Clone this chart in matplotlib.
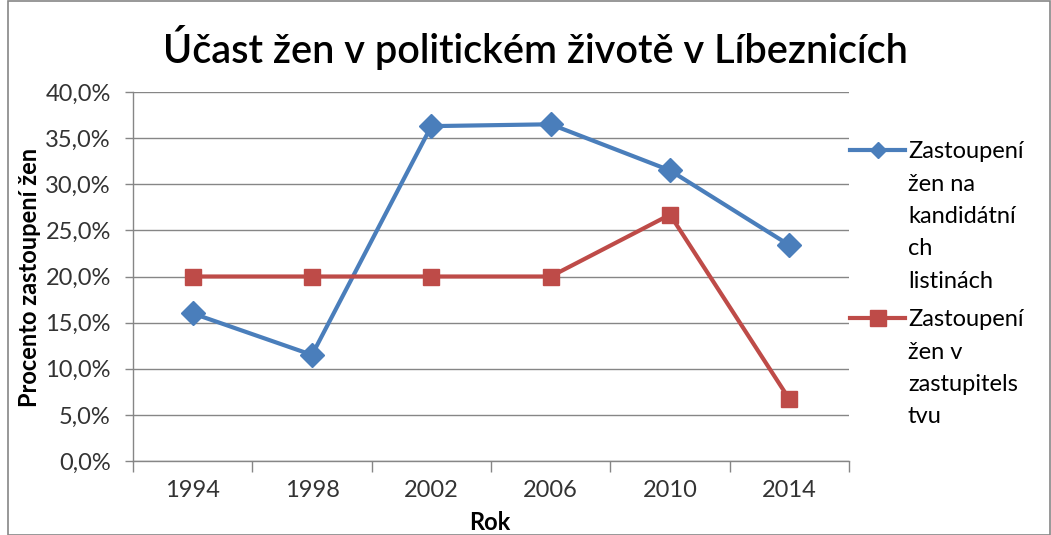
import matplotlib
matplotlib.use("Agg")
import matplotlib.pyplot as plt
from matplotlib.lines import Line2D
from matplotlib.patches import Rectangle
from matplotlib.ticker import FuncFormatter, FixedLocator

years = ["1994", "1998", "2002", "2006", "2010", "2014"]
kandidatky = [16.0, 11.5, 36.3, 36.5, 31.5, 23.4]
zastupitelstvo = [20.0, 20.0, 20.0, 20.0, 26.7, 6.7]
label_blue = "Zastoupení\nžen na\nkandidátní\nch\nlistinách"
label_red = "Zastoupení\nžen v\nzastupitels\ntvu"
title = "Účast žen v politickém životě v Líbeznicích"

plt.rcParams['font.family'] = ['Lato', 'DejaVu Sans']

W, H = 1051, 535
fig = plt.figure(figsize=(W/100, H/100), dpi=100)
fig.patches.append(Rectangle((8/W, 0.5/H), 1 - 9/W, 1 - 1/H, transform=fig.transFigure,
                             fill=False, edgecolor="#868686", linewidth=1.2))

ax = fig.add_axes([133/W, 1 - 461/H, (849-133)/W, (461-92)/H])
blue = "#4A7EBB"
red = "#BE4B48"
grid = "#868686"
x = list(range(len(years)))
ax.plot(x, kandidatky, color=blue, lw=3, marker="D", markersize=12, zorder=3)
ax.plot(x, zastupitelstvo, color=red, lw=3, marker="s", markersize=12, zorder=3)

ax.set_xlim(-0.5, len(years) - 0.5)
ax.set_ylim(0, 40)
ax.set_yticks([0, 5, 10, 15, 20, 25, 30, 35, 40])
ax.yaxis.set_major_formatter(FuncFormatter(lambda v, p: f"{v:.1f}%".replace(".", ",")))
ax.set_xticks(x)
ax.set_xticklabels(years)
ax.xaxis.set_minor_locator(FixedLocator([i - 0.5 for i in range(len(years) + 1)]))
ax.tick_params(axis="x", which="major", length=0, pad=14, labelsize=17, labelcolor="#333333")
ax.tick_params(axis="x", which="minor", length=8, width=1, color=grid)
ax.tick_params(axis="y", length=6, width=1, color=grid, labelsize=17, labelcolor="#333333", pad=10)
ax.grid(axis="y", color=grid, lw=1)
ax.set_axisbelow(True)
for s in ["top", "right"]:
    ax.spines[s].set_visible(False)
for s in ["left", "bottom"]:
    ax.spines[s].set_color(grid)
    ax.spines[s].set_linewidth(1)

fig.text(490/W, 1 - 523/H, "Rok", fontsize=17, fontweight="bold", ha="center", va="center")
fig.text(30/W, 1 - 277/H, "Procento zastoupení žen", fontsize=17, fontweight="bold",
         ha="center", va="center", rotation=90)

fig.text(535/W, 1 - 48/H, title, fontsize=28.5, fontweight="semibold", ha="center", va="center")

# legend
def legend_item(y, color, marker, ms, text):
    yf = 1 - y/H
    fig.add_artist(Line2D([850/W, 905/W], [yf, yf], color=color, lw=3, transform=fig.transFigure))
    fig.add_artist(Line2D([878/W], [yf], color=color, marker=marker, markersize=ms, transform=fig.transFigure))
    for i, line in enumerate(text.split("\n")):
        fig.text(908/W, 1 - (y + 8.5 + i * 32.3)/H, line, fontsize=17, ha="left", va="baseline")

legend_item(150, blue, "D", 8, label_blue)
legend_item(318, red, "s", 11, label_red)

fig.savefig("out.png", dpi=100)
